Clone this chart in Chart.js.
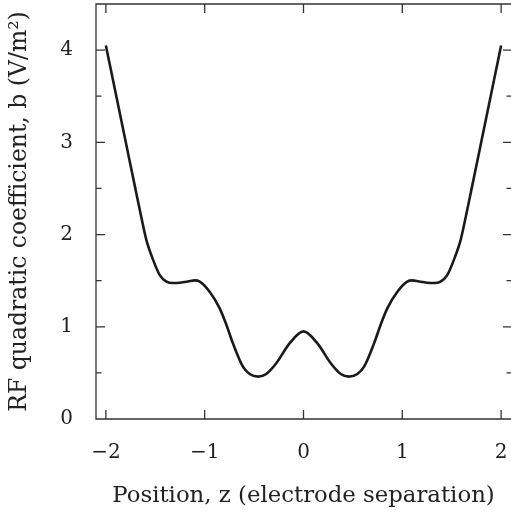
<!DOCTYPE html>
<html lang="en">
<head>
    <meta charset="UTF-8">
    <title>RF quadratic coefficient</title>
    <script src="https://cdn.jsdelivr.net/npm/chart.js"></script>
    <style>
        html, body { margin: 0; padding: 0; background: #fff; overflow: hidden; }
        #wrap { width: 511px; height: 512px; }
    </style>
</head>
<body>
    <div id="wrap"><canvas id="rfChart" width="511" height="512"></canvas></div>

    <script>
        // Data
        const positions = [-2.0, -1.9, -1.8, -1.7, -1.636, -1.59, -1.52, -1.455, -1.387, -1.32, -1.25, -1.17, -1.10, -1.05, -0.95, -0.848, -0.78, -0.714, -0.613, -0.545, -0.46, -0.377, -0.276, -0.141, 0,
                           0.141, 0.276, 0.377, 0.46, 0.545, 0.613, 0.714, 0.78, 0.848, 0.95, 1.05, 1.10, 1.17, 1.25, 1.32, 1.387, 1.455, 1.52, 1.59, 1.636, 1.7, 1.8, 1.9, 2.0];
        const coeffB = [4.05, 3.53, 3.01, 2.49, 2.16, 1.94, 1.72, 1.56, 1.49, 1.475, 1.478, 1.49, 1.503, 1.49, 1.38, 1.20, 1.02, 0.82, 0.567, 0.488, 0.459, 0.488, 0.604, 0.82, 0.95,
                        0.82, 0.604, 0.488, 0.459, 0.488, 0.567, 0.82, 1.02, 1.20, 1.38, 1.49, 1.503, 1.49, 1.478, 1.475, 1.49, 1.56, 1.72, 1.94, 2.16, 2.49, 3.01, 3.53, 4.05];
        const xTicks = [-2, -1, 0, 1, 2];
        const yTicks = [0, 1, 2, 3, 4];
        const yMinorTicks = [0.5, 1.5, 2.5, 3.5];

        const serif = "'DejaVu Serif', 'Liberation Serif', serif";
        const frameColor = '#333';

        // frame (right edge falls off the canvas) + inward ticks on all four sides
        const framePlugin = {
            id: 'frame',
            afterDraw(chart) {
                const ctx = chart.ctx;
                const a = chart.chartArea;
                const xs = chart.scales.x, ys = chart.scales.y;
                const r = a.right + 1;
                ctx.save();
                ctx.strokeStyle = frameColor;
                ctx.lineWidth = 1.3;
                ctx.beginPath();
                ctx.moveTo(r, a.top); ctx.lineTo(a.left, a.top);
                ctx.lineTo(a.left, a.bottom); ctx.lineTo(r, a.bottom);
                xTicks.forEach(v => {
                    const px = xs.getPixelForValue(v);
                    ctx.moveTo(px, a.bottom); ctx.lineTo(px, a.bottom - 9);
                    ctx.moveTo(px, a.top); ctx.lineTo(px, a.top + 9);
                });
                yTicks.forEach(v => {
                    const py = ys.getPixelForValue(v);
                    ctx.moveTo(a.left, py); ctx.lineTo(a.left + 9, py);
                    ctx.moveTo(r, py); ctx.lineTo(r - 9, py);
                });
                yMinorTicks.forEach(v => {
                    const py = ys.getPixelForValue(v);
                    ctx.moveTo(a.left, py); ctx.lineTo(a.left + 5.5, py);
                    ctx.moveTo(r, py); ctx.lineTo(r - 5.5, py);
                });
                ctx.stroke();
                ctx.restore();
            }
        };

        // keep the plot box where the reference has it
        function noPad(s) {
            s.paddingTop = 0; s.paddingBottom = 0; s.paddingLeft = 0; s.paddingRight = 0;
        }

        const ctx = document.getElementById('rfChart').getContext('2d');
        new Chart(ctx, {
            type: 'line',
            data: {
                datasets: [{
                    data: positions.map((z, i) => ({ x: z, y: coeffB[i] })),
                    borderColor: '#1a1a1a',
                    borderWidth: 2.6,
                    pointRadius: 0,
                    cubicInterpolationMode: 'monotone',
                    fill: false
                }]
            },
            options: {
                responsive: false,
                animation: false,
                layout: { padding: { top: 4, right: 0, bottom: 0, left: 0 } },
                plugins: { legend: { display: false }, tooltip: { enabled: false } },
                scales: {
                    x: {
                        type: 'linear',
                        min: -2.1,
                        max: 2.1,
                        afterBuildTicks: s => { s.ticks = xTicks.map(v => ({ value: v })); },
                        afterFit: s => { s.height = 93; noPad(s); },
                        grid: { display: false, drawTicks: false },
                        border: { display: false },
                        ticks: {
                            padding: 22,
                            color: '#222',
                            font: { family: serif, size: 20 },
                            callback: v => v < 0 ? '\u2212' + Math.abs(v) : String(v)
                        },
                        title: {
                            display: true,
                            text: 'Position, z (electrode separation)',
                            color: '#222',
                            font: { family: serif, size: 22.8 },
                            padding: { top: 0, bottom: 2 }
                        }
                    },
                    y: {
                        type: 'linear',
                        min: 0,
                        max: 4.5,
                        afterBuildTicks: s => { s.ticks = yTicks.map(v => ({ value: v })); },
                        afterFit: s => { s.width = 96; noPad(s); },
                        grid: { display: false, drawTicks: false },
                        border: { display: false },
                        ticks: {
                            padding: 23,
                            color: '#222',
                            font: { family: serif, size: 20 }
                        },
                        title: {
                            display: true,
                            text: 'RF quadratic coefficient, b (V/m\u00B2)',
                            color: '#222',
                            font: { family: serif, size: 23.5 },
                            padding: { top: 6, bottom: 0 }
                        }
                    }
                }
            },
            plugins: [framePlugin]
        });
    </script>
</body>
</html>
